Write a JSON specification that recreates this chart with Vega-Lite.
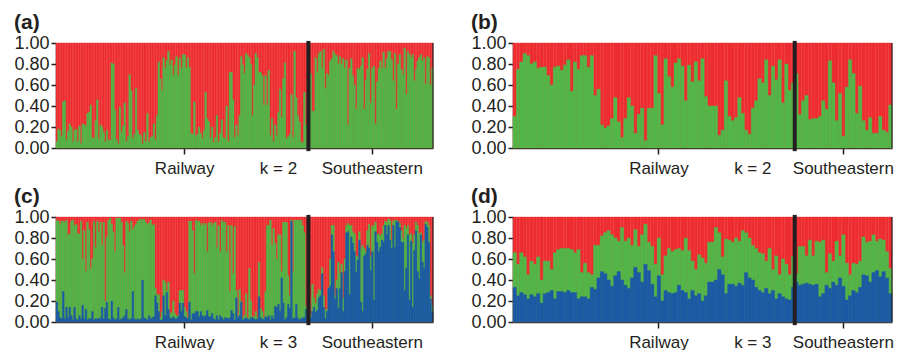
{
"$schema": "https://vega.github.io/schema/vega-lite/v6.json",
"padding": {"left": 13, "top": 12, "right": 5, "bottom": 0},
"config": {
  "view": {"stroke": null},
  "font": "Liberation Sans",
  "axis": {"labelFont": "Liberation Sans", "labelFontSize": 17, "labelColor": "#231F20", "domainColor": "#231F20", "tickColor": "#231F20", "domainWidth": 1.5, "tickWidth": 1.5, "grid": false},
  "title": {"font": "Liberation Sans", "fontSize": 21, "fontWeight": "bold", "anchor": "start", "color": "#231F20", "offset": 1}
},
"datasets": {
"a": [{"i":1,"t":0.06},{"i":2,"t":0.18},{"i":3,"t":0.17},{"i":4,"t":0.11},{"i":5,"t":0.44},{"i":6,"t":0.45},{"i":7,"t":0.08},{"i":8,"t":0.16},{"i":9,"t":0.23},{"i":10,"t":0.20},{"i":11,"t":0.06},{"i":12,"t":0.17},{"i":13,"t":0.18},{"i":14,"t":0.06},{"i":15,"t":0.21},{"i":16,"t":0.04},{"i":17,"t":0.23},{"i":18,"t":0.22},{"i":19,"t":0.21},{"i":20,"t":0.33},{"i":21,"t":0.34},{"i":22,"t":0.41},{"i":23,"t":0.10},{"i":24,"t":0.09},{"i":25,"t":0.26},{"i":26,"t":0.46},{"i":27,"t":0.09},{"i":28,"t":0.22},{"i":29,"t":0.20},{"i":30,"t":0.15},{"i":31,"t":0.06},{"i":32,"t":0.17},{"i":33,"t":0.08},{"i":34,"t":0.07},{"i":35,"t":0.81},{"i":36,"t":0.80},{"i":37,"t":0.36},{"i":38,"t":0.08},{"i":39,"t":0.04},{"i":40,"t":0.39},{"i":41,"t":0.15},{"i":42,"t":0.21},{"i":43,"t":0.43},{"i":44,"t":0.06},{"i":45,"t":0.11},{"i":46,"t":0.70},{"i":47,"t":0.55},{"i":48,"t":0.09},{"i":49,"t":0.13},{"i":50,"t":0.57},{"i":51,"t":0.17},{"i":52,"t":0.13},{"i":53,"t":0.12},{"i":54,"t":0.04},{"i":55,"t":0.15},{"i":56,"t":0.06},{"i":57,"t":0.33},{"i":58,"t":0.06},{"i":59,"t":0.10},{"i":60,"t":0.11},{"i":61,"t":0.23},{"i":62,"t":0.08},{"i":63,"t":0.31},{"i":64,"t":0.82},{"i":65,"t":0.66},{"i":66,"t":0.55},{"i":67,"t":0.86},{"i":68,"t":0.76},{"i":69,"t":0.83},{"i":70,"t":0.92},{"i":71,"t":0.79},{"i":72,"t":0.84},{"i":73,"t":0.69},{"i":74,"t":0.79},{"i":75,"t":0.87},{"i":76,"t":0.69},{"i":77,"t":0.86},{"i":78,"t":0.76},{"i":79,"t":0.89},{"i":80,"t":0.89},{"i":81,"t":0.76},{"i":82,"t":0.86},{"i":83,"t":0.77},{"i":84,"t":0.14},{"i":85,"t":0.13},{"i":86,"t":0.44},{"i":87,"t":0.11},{"i":88,"t":0.13},{"i":89,"t":0.20},{"i":90,"t":0.14},{"i":91,"t":0.09},{"i":92,"t":0.17},{"i":93,"t":0.53},{"i":94,"t":0.28},{"i":95,"t":0.25},{"i":96,"t":0.10},{"i":97,"t":0.20},{"i":98,"t":0.05},{"i":99,"t":0.10},{"i":100,"t":0.31},{"i":101,"t":0.06},{"i":102,"t":0.14},{"i":103,"t":0.27},{"i":104,"t":0.10},{"i":105,"t":0.09},{"i":106,"t":0.40},{"i":107,"t":0.06},{"i":108,"t":0.72},{"i":109,"t":0.72},{"i":110,"t":0.46},{"i":111,"t":0.10},{"i":112,"t":0.22},{"i":113,"t":0.12},{"i":114,"t":0.31},{"i":115,"t":0.87},{"i":116,"t":0.79},{"i":117,"t":0.71},{"i":118,"t":0.90},{"i":119,"t":0.88},{"i":120,"t":0.86},{"i":121,"t":0.80},{"i":122,"t":0.31},{"i":123,"t":0.60},{"i":124,"t":0.90},{"i":125,"t":0.86},{"i":126,"t":0.72},{"i":127,"t":0.72},{"i":128,"t":0.69},{"i":129,"t":0.41},{"i":130,"t":0.69},{"i":131,"t":0.41},{"i":132,"t":0.74},{"i":133,"t":0.12},{"i":134,"t":0.28},{"i":135,"t":0.06},{"i":136,"t":0.22},{"i":137,"t":0.12},{"i":138,"t":0.34},{"i":139,"t":0.56},{"i":140,"t":0.29},{"i":141,"t":0.66},{"i":142,"t":0.81},{"i":143,"t":0.09},{"i":144,"t":0.11},{"i":145,"t":0.13},{"i":146,"t":0.51},{"i":147,"t":0.10},{"i":148,"t":0.92},{"i":149,"t":0.48},{"i":150,"t":0.31},{"i":151,"t":0.25},{"i":152,"t":0.06},{"i":153,"t":0.05},{"i":154,"t":0.53},{"i":155,"t":0.22},{"i":156,"t":0.05},{"i":157,"t":0.86},{"i":158,"t":0.71},{"i":159,"t":0.35},{"i":160,"t":0.35},{"i":161,"t":0.86},{"i":162,"t":0.72},{"i":163,"t":0.90},{"i":164,"t":0.92},{"i":165,"t":0.76},{"i":166,"t":0.94},{"i":167,"t":0.57},{"i":168,"t":0.71},{"i":169,"t":0.69},{"i":170,"t":0.83},{"i":171,"t":0.85},{"i":172,"t":0.92},{"i":173,"t":0.89},{"i":174,"t":0.88},{"i":175,"t":0.80},{"i":176,"t":0.87},{"i":177,"t":0.80},{"i":178,"t":0.85},{"i":179,"t":0.76},{"i":180,"t":0.84},{"i":181,"t":0.22},{"i":182,"t":0.76},{"i":183,"t":0.85},{"i":184,"t":0.69},{"i":185,"t":0.60},{"i":186,"t":0.37},{"i":187,"t":0.76},{"i":188,"t":0.75},{"i":189,"t":0.78},{"i":190,"t":0.86},{"i":191,"t":0.37},{"i":192,"t":0.65},{"i":193,"t":0.75},{"i":194,"t":0.90},{"i":195,"t":0.43},{"i":196,"t":0.76},{"i":197,"t":0.78},{"i":198,"t":0.23},{"i":199,"t":0.63},{"i":200,"t":0.76},{"i":201,"t":0.83},{"i":202,"t":0.76},{"i":203,"t":0.91},{"i":204,"t":0.76},{"i":205,"t":0.85},{"i":206,"t":0.92},{"i":207,"t":0.92},{"i":208,"t":0.84},{"i":209,"t":0.64},{"i":210,"t":0.90},{"i":211,"t":0.37},{"i":212,"t":0.80},{"i":213,"t":0.89},{"i":214,"t":0.75},{"i":215,"t":0.70},{"i":216,"t":0.95},{"i":217,"t":0.51},{"i":218,"t":0.92},{"i":219,"t":0.89},{"i":220,"t":0.86},{"i":221,"t":0.89},{"i":222,"t":0.64},{"i":223,"t":0.75},{"i":224,"t":0.83},{"i":225,"t":0.86},{"i":226,"t":0.89},{"i":227,"t":0.83},{"i":228,"t":0.86},{"i":229,"t":0.61},{"i":230,"t":0.87},{"i":231,"t":0.86},{"i":232,"t":0.60},{"i":233,"t":0.76}],
"b": [{"i":1,"t":0.30},{"i":2,"t":0.75},{"i":3,"t":0.82},{"i":4,"t":0.90},{"i":5,"t":0.88},{"i":6,"t":0.80},{"i":7,"t":0.82},{"i":8,"t":0.76},{"i":9,"t":0.77},{"i":10,"t":0.77},{"i":11,"t":0.69},{"i":12,"t":0.60},{"i":13,"t":0.77},{"i":14,"t":0.78},{"i":15,"t":0.74},{"i":16,"t":0.79},{"i":17,"t":0.84},{"i":18,"t":0.54},{"i":19,"t":0.82},{"i":20,"t":0.75},{"i":21,"t":0.88},{"i":22,"t":0.88},{"i":23,"t":0.77},{"i":24,"t":0.88},{"i":25,"t":0.50},{"i":26,"t":0.56},{"i":27,"t":0.22},{"i":28,"t":0.19},{"i":29,"t":0.21},{"i":30,"t":0.28},{"i":31,"t":0.48},{"i":32,"t":0.25},{"i":33,"t":0.10},{"i":34,"t":0.28},{"i":35,"t":0.48},{"i":36,"t":0.40},{"i":37,"t":0.14},{"i":38,"t":0.32},{"i":39,"t":0.38},{"i":40,"t":0.07},{"i":41,"t":0.38},{"i":42,"t":0.38},{"i":43,"t":0.88},{"i":44,"t":0.52},{"i":45,"t":0.22},{"i":46,"t":0.85},{"i":47,"t":0.68},{"i":48,"t":0.58},{"i":49,"t":0.81},{"i":50,"t":0.85},{"i":51,"t":0.78},{"i":52,"t":0.45},{"i":53,"t":0.79},{"i":54,"t":0.63},{"i":55,"t":0.82},{"i":56,"t":0.64},{"i":57,"t":0.85},{"i":58,"t":0.49},{"i":59,"t":0.40},{"i":60,"t":0.40},{"i":61,"t":0.40},{"i":62,"t":0.12},{"i":63,"t":0.17},{"i":64,"t":0.64},{"i":65,"t":0.30},{"i":66,"t":0.26},{"i":67,"t":0.29},{"i":68,"t":0.48},{"i":69,"t":0.33},{"i":70,"t":0.17},{"i":71,"t":0.13},{"i":72,"t":0.38},{"i":73,"t":0.45},{"i":74,"t":0.66},{"i":75,"t":0.62},{"i":76,"t":0.84},{"i":77,"t":0.50},{"i":78,"t":0.78},{"i":79,"t":0.65},{"i":80,"t":0.84},{"i":81,"t":0.43},{"i":82,"t":0.80},{"i":83,"t":0.55},{"i":84,"t":0.62},{"i":85,"t":0.71},{"i":86,"t":0.32},{"i":87,"t":0.45},{"i":88,"t":0.50},{"i":89,"t":0.27},{"i":90,"t":0.28},{"i":91,"t":0.28},{"i":92,"t":0.30},{"i":93,"t":0.45},{"i":94,"t":0.37},{"i":95,"t":0.83},{"i":96,"t":0.62},{"i":97,"t":0.26},{"i":98,"t":0.52},{"i":99,"t":0.11},{"i":100,"t":0.58},{"i":101,"t":0.84},{"i":102,"t":0.71},{"i":103,"t":0.33},{"i":104,"t":0.59},{"i":105,"t":0.26},{"i":106,"t":0.17},{"i":107,"t":0.29},{"i":108,"t":0.14},{"i":109,"t":0.14},{"i":110,"t":0.30},{"i":111,"t":0.17},{"i":112,"t":0.15},{"i":113,"t":0.41}],
"c": [{"i":1,"t":0.97,"b":0.19},{"i":2,"t":0.96,"b":0.10},{"i":3,"t":0.93,"b":0.04},{"i":4,"t":0.96,"b":0.03},{"i":5,"t":0.96,"b":0.29},{"i":6,"t":0.95,"b":0.03},{"i":7,"t":0.97,"b":0.14},{"i":8,"t":0.83,"b":0.04},{"i":9,"t":0.84,"b":0.14},{"i":10,"t":0.96,"b":0.06},{"i":11,"t":0.97,"b":0.02},{"i":12,"t":0.92,"b":0.14},{"i":13,"t":0.93,"b":0.03},{"i":14,"t":0.84,"b":0.02},{"i":15,"t":0.84,"b":0.06},{"i":16,"t":0.96,"b":0.03},{"i":17,"t":0.60,"b":0.16},{"i":18,"t":0.87,"b":0.03},{"i":19,"t":0.48,"b":0.12},{"i":20,"t":0.95,"b":0.02},{"i":21,"t":0.88,"b":0.03},{"i":22,"t":0.51,"b":0.03},{"i":23,"t":0.60,"b":0.10},{"i":24,"t":0.96,"b":0.02},{"i":25,"t":0.71,"b":0.03},{"i":26,"t":0.96,"b":0.03},{"i":27,"t":0.86,"b":0.03},{"i":28,"t":0.95,"b":0.04},{"i":29,"t":0.73,"b":0.14},{"i":30,"t":0.95,"b":0.03},{"i":31,"t":0.20,"b":0.13},{"i":32,"t":0.81,"b":0.19},{"i":33,"t":0.97,"b":0.03},{"i":34,"t":0.99,"b":0.02},{"i":35,"t":0.93,"b":0.20},{"i":36,"t":0.86,"b":0.04},{"i":37,"t":0.67,"b":0.02},{"i":38,"t":0.99,"b":0.03},{"i":39,"t":0.99,"b":0.14},{"i":40,"t":0.99,"b":0.02},{"i":41,"t":0.95,"b":0.03},{"i":42,"t":0.73,"b":0.04},{"i":43,"t":0.47,"b":0.06},{"i":44,"t":0.96,"b":0.12},{"i":45,"t":0.94,"b":0.03},{"i":46,"t":0.86,"b":0.02},{"i":47,"t":0.96,"b":0.03},{"i":48,"t":0.88,"b":0.29},{"i":49,"t":0.91,"b":0.03},{"i":50,"t":0.93,"b":0.02},{"i":51,"t":0.96,"b":0.03},{"i":52,"t":0.97,"b":0.02},{"i":53,"t":0.98,"b":0.03},{"i":54,"t":0.97,"b":0.40},{"i":55,"t":0.98,"b":0.04},{"i":56,"t":0.95,"b":0.03},{"i":57,"t":0.93,"b":0.02},{"i":58,"t":0.94,"b":0.06},{"i":59,"t":0.97,"b":0.03},{"i":60,"t":0.92,"b":0.04},{"i":61,"t":0.93,"b":0.05},{"i":62,"t":0.32,"b":0.25},{"i":63,"t":0.26,"b":0.18},{"i":64,"t":0.26,"b":0.10},{"i":65,"t":0.04,"b":0.02},{"i":66,"t":0.10,"b":0.02},{"i":67,"t":0.40,"b":0.25},{"i":68,"t":0.38,"b":0.06},{"i":69,"t":0.30,"b":0.28},{"i":70,"t":0.38,"b":0.12},{"i":71,"t":0.08,"b":0.04},{"i":72,"t":0.09,"b":0.03},{"i":73,"t":0.20,"b":0.05},{"i":74,"t":0.08,"b":0.03},{"i":75,"t":0.06,"b":0.03},{"i":76,"t":0.06,"b":0.05},{"i":77,"t":0.30,"b":0.18},{"i":78,"t":0.30,"b":0.10},{"i":79,"t":0.30,"b":0.18},{"i":80,"t":0.14,"b":0.05},{"i":81,"t":0.10,"b":0.04},{"i":82,"t":0.04,"b":0.03},{"i":83,"t":0.96,"b":0.19},{"i":84,"t":0.96,"b":0.02},{"i":85,"t":0.87,"b":0.08},{"i":86,"t":0.46,"b":0.08},{"i":87,"t":0.97,"b":0.10},{"i":88,"t":0.96,"b":0.10},{"i":89,"t":0.96,"b":0.05},{"i":90,"t":0.92,"b":0.10},{"i":91,"t":0.94,"b":0.06},{"i":92,"t":0.92,"b":0.05},{"i":93,"t":0.94,"b":0.06},{"i":94,"t":0.67,"b":0.11},{"i":95,"t":0.94,"b":0.05},{"i":96,"t":0.95,"b":0.05},{"i":97,"t":0.92,"b":0.08},{"i":98,"t":0.94,"b":0.03},{"i":99,"t":0.95,"b":0.02},{"i":100,"t":0.71,"b":0.06},{"i":101,"t":0.92,"b":0.02},{"i":102,"t":0.67,"b":0.06},{"i":103,"t":0.97,"b":0.04},{"i":104,"t":0.95,"b":0.02},{"i":105,"t":0.95,"b":0.04},{"i":106,"t":0.67,"b":0.04},{"i":107,"t":0.92,"b":0.03},{"i":108,"t":0.29,"b":0.04},{"i":109,"t":0.92,"b":0.11},{"i":110,"t":0.46,"b":0.08},{"i":111,"t":0.91,"b":0.02},{"i":112,"t":0.30,"b":0.23},{"i":113,"t":0.06,"b":0.04},{"i":114,"t":0.31,"b":0.06},{"i":115,"t":0.20,"b":0.19},{"i":116,"t":0.04,"b":0.02},{"i":117,"t":0.06,"b":0.03},{"i":118,"t":0.27,"b":0.04},{"i":119,"t":0.04,"b":0.03},{"i":120,"t":0.51,"b":0.02},{"i":121,"t":0.20,"b":0.04},{"i":122,"t":0.05,"b":0.04},{"i":123,"t":0.05,"b":0.03},{"i":124,"t":0.10,"b":0.02},{"i":125,"t":0.04,"b":0.03},{"i":126,"t":0.57,"b":0.24},{"i":127,"t":0.13,"b":0.04},{"i":128,"t":0.10,"b":0.03},{"i":129,"t":0.04,"b":0.02},{"i":130,"t":0.29,"b":0.05},{"i":131,"t":0.92,"b":0.04},{"i":132,"t":0.92,"b":0.06},{"i":133,"t":0.97,"b":0.02},{"i":134,"t":0.73,"b":0.06},{"i":135,"t":0.89,"b":0.03},{"i":136,"t":0.75,"b":0.15},{"i":137,"t":0.60,"b":0.14},{"i":138,"t":0.83,"b":0.17},{"i":139,"t":0.83,"b":0.10},{"i":140,"t":0.48,"b":0.42},{"i":141,"t":0.95,"b":0.18},{"i":142,"t":0.95,"b":0.02},{"i":143,"t":0.95,"b":0.04},{"i":144,"t":0.44,"b":0.17},{"i":145,"t":0.25,"b":0.13},{"i":146,"t":0.97,"b":0.96},{"i":147,"t":0.48,"b":0.03},{"i":148,"t":0.97,"b":0.04},{"i":149,"t":0.97,"b":0.17},{"i":150,"t":0.97,"b":0.04},{"i":151,"t":0.97,"b":0.02},{"i":152,"t":0.97,"b":0.03},{"i":153,"t":0.92,"b":0.04},{"i":154,"t":0.85,"b":0.04},{"i":155,"t":0.15,"b":0.12},{"i":156,"t":0.15,"b":0.06},{"i":157,"t":0.22,"b":0.15},{"i":158,"t":0.06,"b":0.04},{"i":159,"t":0.36,"b":0.10},{"i":160,"t":0.23,"b":0.14},{"i":161,"t":0.18,"b":0.09},{"i":162,"t":0.27,"b":0.11},{"i":163,"t":0.31,"b":0.23},{"i":164,"t":0.30,"b":0.25},{"i":165,"t":0.52,"b":0.46},{"i":166,"t":0.25,"b":0.14},{"i":167,"t":0.12,"b":0.03},{"i":168,"t":0.12,"b":0.10},{"i":169,"t":0.33,"b":0.32},{"i":170,"t":0.60,"b":0.34},{"i":171,"t":0.92,"b":0.83},{"i":172,"t":0.92,"b":0.67},{"i":173,"t":0.25,"b":0.22},{"i":174,"t":0.40,"b":0.32},{"i":175,"t":0.57,"b":0.13},{"i":176,"t":0.46,"b":0.32},{"i":177,"t":0.55,"b":0.47},{"i":178,"t":0.23,"b":0.10},{"i":179,"t":0.60,"b":0.48},{"i":180,"t":0.92,"b":0.85},{"i":181,"t":0.94,"b":0.86},{"i":182,"t":0.92,"b":0.26},{"i":183,"t":0.92,"b":0.81},{"i":184,"t":0.86,"b":0.75},{"i":185,"t":0.84,"b":0.67},{"i":186,"t":0.63,"b":0.47},{"i":187,"t":0.62,"b":0.59},{"i":188,"t":0.86,"b":0.78},{"i":189,"t":0.70,"b":0.19},{"i":190,"t":0.73,"b":0.10},{"i":191,"t":0.70,"b":0.63},{"i":192,"t":0.67,"b":0.65},{"i":193,"t":0.87,"b":0.73},{"i":194,"t":0.93,"b":0.70},{"i":195,"t":0.62,"b":0.49},{"i":196,"t":0.91,"b":0.67},{"i":197,"t":0.92,"b":0.21},{"i":198,"t":0.95,"b":0.86},{"i":199,"t":0.83,"b":0.76},{"i":200,"t":0.84,"b":0.67},{"i":201,"t":0.82,"b":0.71},{"i":202,"t":0.84,"b":0.78},{"i":203,"t":0.92,"b":0.76},{"i":204,"t":0.96,"b":0.92},{"i":205,"t":0.95,"b":0.83},{"i":206,"t":0.98,"b":0.92},{"i":207,"t":0.97,"b":0.78},{"i":208,"t":0.78,"b":0.70},{"i":209,"t":0.96,"b":0.92},{"i":210,"t":0.97,"b":0.71},{"i":211,"t":0.97,"b":0.96},{"i":212,"t":0.96,"b":0.95},{"i":213,"t":0.94,"b":0.90},{"i":214,"t":0.87,"b":0.76},{"i":215,"t":0.79,"b":0.76},{"i":216,"t":0.92,"b":0.30},{"i":217,"t":0.89,"b":0.51},{"i":218,"t":0.92,"b":0.83},{"i":219,"t":0.83,"b":0.21},{"i":220,"t":0.84,"b":0.77},{"i":221,"t":0.75,"b":0.14},{"i":222,"t":0.83,"b":0.68},{"i":223,"t":0.95,"b":0.87},{"i":224,"t":0.92,"b":0.48},{"i":225,"t":0.84,"b":0.41},{"i":226,"t":0.85,"b":0.83},{"i":227,"t":0.76,"b":0.57},{"i":228,"t":0.78,"b":0.51},{"i":229,"t":0.96,"b":0.93},{"i":230,"t":0.95,"b":0.90},{"i":231,"t":0.92,"b":0.76},{"i":232,"t":0.25,"b":0.22},{"i":233,"t":0.16,"b":0.10}],
"d": [{"i":1,"t":0.66,"b":0.33},{"i":2,"t":0.55,"b":0.25},{"i":3,"t":0.66,"b":0.28},{"i":4,"t":0.62,"b":0.26},{"i":5,"t":0.45,"b":0.22},{"i":6,"t":0.58,"b":0.26},{"i":7,"t":0.55,"b":0.24},{"i":8,"t":0.62,"b":0.27},{"i":9,"t":0.40,"b":0.18},{"i":10,"t":0.58,"b":0.27},{"i":11,"t":0.58,"b":0.28},{"i":12,"t":0.50,"b":0.30},{"i":13,"t":0.66,"b":0.22},{"i":14,"t":0.69,"b":0.29},{"i":15,"t":0.70,"b":0.29},{"i":16,"t":0.70,"b":0.28},{"i":17,"t":0.70,"b":0.30},{"i":18,"t":0.69,"b":0.28},{"i":19,"t":0.66,"b":0.28},{"i":20,"t":0.69,"b":0.22},{"i":21,"t":0.47,"b":0.24},{"i":22,"t":0.56,"b":0.24},{"i":23,"t":0.47,"b":0.22},{"i":24,"t":0.45,"b":0.33},{"i":25,"t":0.73,"b":0.31},{"i":26,"t":0.73,"b":0.42},{"i":27,"t":0.82,"b":0.48},{"i":28,"t":0.85,"b":0.46},{"i":29,"t":0.87,"b":0.40},{"i":30,"t":0.83,"b":0.34},{"i":31,"t":0.80,"b":0.44},{"i":32,"t":0.77,"b":0.48},{"i":33,"t":0.90,"b":0.40},{"i":34,"t":0.77,"b":0.35},{"i":35,"t":0.80,"b":0.32},{"i":36,"t":0.73,"b":0.42},{"i":37,"t":0.88,"b":0.52},{"i":38,"t":0.72,"b":0.47},{"i":39,"t":0.83,"b":0.38},{"i":40,"t":0.93,"b":0.55},{"i":41,"t":0.76,"b":0.49},{"i":42,"t":0.72,"b":0.36},{"i":43,"t":0.55,"b":0.24},{"i":44,"t":0.80,"b":0.44},{"i":45,"t":0.45,"b":0.20},{"i":46,"t":0.63,"b":0.30},{"i":47,"t":0.70,"b":0.28},{"i":48,"t":0.67,"b":0.27},{"i":49,"t":0.69,"b":0.28},{"i":50,"t":0.70,"b":0.35},{"i":51,"t":0.68,"b":0.30},{"i":52,"t":0.80,"b":0.28},{"i":53,"t":0.68,"b":0.22},{"i":54,"t":0.58,"b":0.30},{"i":55,"t":0.50,"b":0.25},{"i":56,"t":0.64,"b":0.27},{"i":57,"t":0.61,"b":0.20},{"i":58,"t":0.56,"b":0.25},{"i":59,"t":0.76,"b":0.38},{"i":60,"t":0.76,"b":0.38},{"i":61,"t":0.90,"b":0.40},{"i":62,"t":0.85,"b":0.50},{"i":63,"t":0.62,"b":0.45},{"i":64,"t":0.79,"b":0.27},{"i":65,"t":0.78,"b":0.36},{"i":66,"t":0.76,"b":0.36},{"i":67,"t":0.80,"b":0.34},{"i":68,"t":0.77,"b":0.37},{"i":69,"t":0.87,"b":0.35},{"i":70,"t":0.85,"b":0.47},{"i":71,"t":0.80,"b":0.42},{"i":72,"t":0.73,"b":0.40},{"i":73,"t":0.70,"b":0.33},{"i":74,"t":0.66,"b":0.30},{"i":75,"t":0.65,"b":0.28},{"i":76,"t":0.58,"b":0.32},{"i":77,"t":0.70,"b":0.27},{"i":78,"t":0.50,"b":0.30},{"i":79,"t":0.63,"b":0.22},{"i":80,"t":0.45,"b":0.27},{"i":81,"t":0.60,"b":0.24},{"i":82,"t":0.55,"b":0.22},{"i":83,"t":0.45,"b":0.21},{"i":84,"t":0.63,"b":0.33},{"i":85,"t":0.46,"b":0.38},{"i":86,"t":0.72,"b":0.35},{"i":87,"t":0.72,"b":0.36},{"i":88,"t":0.63,"b":0.37},{"i":89,"t":0.78,"b":0.36},{"i":90,"t":0.63,"b":0.35},{"i":91,"t":0.77,"b":0.36},{"i":92,"t":0.76,"b":0.24},{"i":93,"t":0.78,"b":0.27},{"i":94,"t":0.47,"b":0.35},{"i":95,"t":0.65,"b":0.32},{"i":96,"t":0.58,"b":0.38},{"i":97,"t":0.77,"b":0.35},{"i":98,"t":0.63,"b":0.42},{"i":99,"t":0.83,"b":0.34},{"i":100,"t":0.56,"b":0.21},{"i":101,"t":0.45,"b":0.25},{"i":102,"t":0.56,"b":0.30},{"i":103,"t":0.55,"b":0.28},{"i":104,"t":0.58,"b":0.33},{"i":105,"t":0.81,"b":0.45},{"i":106,"t":0.76,"b":0.44},{"i":107,"t":0.77,"b":0.38},{"i":108,"t":0.83,"b":0.47},{"i":109,"t":0.77,"b":0.49},{"i":110,"t":0.79,"b":0.43},{"i":111,"t":0.78,"b":0.48},{"i":112,"t":0.67,"b":0.42},{"i":113,"t":0.51,"b":0.27}]
},
"spacing": 10,
"vconcat": [
{"spacing": 36, "hconcat": [
 {"title": "(a)", "width": 377, "height": 105, "data": {"name": "a"},
  "resolve": {"axis": {"x": "independent", "y": "independent"}},
  "layer": [
   {"mark": {"type": "bar", "color": "#EE2D31", "stroke": "#EE2D31", "strokeWidth": 0.4},
    "encoding": {"x": {"field": "i", "type": "ordinal", "scale": {"paddingInner": 0, "paddingOuter": 0}, "axis": null},
                 "y": {"datum": 1, "type": "quantitative", "scale": {"domain": [0, 1]}, "axis": null}, "y2": {"datum": 0}}},
   {"mark": {"type": "bar", "color": "#52B748", "stroke": "#52B748", "strokeWidth": 0.4},
    "encoding": {"x": {"field": "i", "type": "ordinal", "scale": {"paddingInner": 0, "paddingOuter": 0},
                       "axis": {"title": null, "values": [80, 138, 196], "labelExpr": "datum.value == 80 ? 'Railway' : datum.value == 138 ? 'k = 2' : 'Southeastern'", "labelAngle": 0, "labelAlign": "center", "labelBaseline": "top", "tickSize": 6, "labelPadding": 6, "labelOverlap": false, "tickOpacity": {"condition": {"test": "datum.value == 138", "value": 0}, "value": 1}}},
                 "y": {"field": "t", "type": "quantitative", "scale": {"domain": [0, 1]}, "axis": {"title": null, "values": [0, 0.2, 0.4, 0.6, 0.8, 1], "format": ".2f", "tickSize": 5, "labelPadding": 2, "labelFontSize": 18, "labelOverlap": false, "labelAlign": "right", "labelBaseline": "middle"}},
                 "y2": {"datum": 0}}},
   {"transform": [{"filter": "datum.i == 157"}], "mark": {"type": "rule", "color": "#231F20", "strokeWidth": 4},
    "encoding": {"x": {"field": "i", "type": "ordinal", "bandPosition": 0, "axis": null}, "y": {"datum": 1.02, "type": "quantitative", "axis": null}, "y2": {"datum": -0.03}}},
   {"transform": [{"filter": "datum.i == 233"}], "mark": {"type": "rule", "color": "#231F20", "strokeWidth": 1.2},
    "encoding": {"x": {"field": "i", "type": "ordinal", "bandPosition": 1, "axis": null}, "y": {"datum": 1, "type": "quantitative", "axis": null}, "y2": {"datum": 0}}}
  ]},
 {"title": "(b)", "width": 379, "height": 105, "data": {"name": "b"},
  "resolve": {"axis": {"x": "independent", "y": "independent"}},
  "layer": [
   {"mark": {"type": "bar", "color": "#EE2D31", "stroke": "#EE2D31", "strokeWidth": 0.4},
    "encoding": {"x": {"field": "i", "type": "ordinal", "scale": {"paddingInner": 0, "paddingOuter": 0}, "axis": null},
                 "y": {"datum": 1, "type": "quantitative", "scale": {"domain": [0, 1]}, "axis": null}, "y2": {"datum": 0}}},
   {"mark": {"type": "bar", "color": "#52B748", "stroke": "#52B748", "strokeWidth": 0.4},
    "encoding": {"x": {"field": "i", "type": "ordinal", "scale": {"paddingInner": 0, "paddingOuter": 0},
                       "axis": {"title": null, "values": [44, 72, 99], "labelExpr": "datum.value == 44 ? 'Railway' : datum.value == 72 ? 'k = 2' : 'Southeastern'", "labelAngle": 0, "labelAlign": "center", "labelBaseline": "top", "tickSize": 6, "labelPadding": 6, "labelOverlap": false, "tickOpacity": {"condition": {"test": "datum.value == 72", "value": 0}, "value": 1}}},
                 "y": {"field": "t", "type": "quantitative", "scale": {"domain": [0, 1]}, "axis": {"title": null, "values": [0, 0.2, 0.4, 0.6, 0.8, 1], "format": ".2f", "tickSize": 5, "labelPadding": 2, "labelFontSize": 18, "labelOverlap": false, "labelAlign": "right", "labelBaseline": "middle"}},
                 "y2": {"datum": 0}}},
   {"transform": [{"filter": "datum.i == 85"}], "mark": {"type": "rule", "color": "#231F20", "strokeWidth": 4},
    "encoding": {"x": {"field": "i", "type": "ordinal", "bandPosition": 0, "axis": null}, "y": {"datum": 1.02, "type": "quantitative", "axis": null}, "y2": {"datum": -0.03}}},
   {"transform": [{"filter": "datum.i == 113"}], "mark": {"type": "rule", "color": "#231F20", "strokeWidth": 1.2},
    "encoding": {"x": {"field": "i", "type": "ordinal", "bandPosition": 1, "axis": null}, "y": {"datum": 1, "type": "quantitative", "axis": null}, "y2": {"datum": 0}}}
  ]}
]},
{"spacing": 36, "hconcat": [
 {"title": "(c)", "width": 377, "height": 105, "data": {"name": "c"},
  "resolve": {"axis": {"x": "independent", "y": "independent"}},
  "layer": [
   {"mark": {"type": "bar", "color": "#EE2D31", "stroke": "#EE2D31", "strokeWidth": 0.4},
    "encoding": {"x": {"field": "i", "type": "ordinal", "scale": {"paddingInner": 0, "paddingOuter": 0}, "axis": null},
                 "y": {"datum": 1, "type": "quantitative", "scale": {"domain": [0, 1]}, "axis": null}, "y2": {"datum": 0}}},
   {"mark": {"type": "bar", "color": "#52B748", "stroke": "#52B748", "strokeWidth": 0.4},
    "encoding": {"x": {"field": "i", "type": "ordinal", "scale": {"paddingInner": 0, "paddingOuter": 0},
                       "axis": {"title": null, "values": [80, 138, 196], "labelExpr": "datum.value == 80 ? 'Railway' : datum.value == 138 ? 'k = 3' : 'Southeastern'", "labelAngle": 0, "labelAlign": "center", "labelBaseline": "top", "tickSize": 6, "labelPadding": 6, "labelOverlap": false, "tickOpacity": {"condition": {"test": "datum.value == 138", "value": 0}, "value": 1}}},
                 "y": {"field": "t", "type": "quantitative", "scale": {"domain": [0, 1]}, "axis": {"title": null, "values": [0, 0.2, 0.4, 0.6, 0.8, 1], "format": ".2f", "tickSize": 5, "labelPadding": 2, "labelFontSize": 18, "labelOverlap": false, "labelAlign": "right", "labelBaseline": "middle"}},
                 "y2": {"datum": 0}}},
   {"mark": {"type": "bar", "color": "#1C5AA5", "stroke": "#1C5AA5", "strokeWidth": 0.4},
    "encoding": {"x": {"field": "i", "type": "ordinal", "axis": null},
                 "y": {"field": "b", "type": "quantitative", "scale": {"domain": [0, 1]}, "axis": null}, "y2": {"datum": 0}}},
   {"transform": [{"filter": "datum.i == 157"}], "mark": {"type": "rule", "color": "#231F20", "strokeWidth": 4},
    "encoding": {"x": {"field": "i", "type": "ordinal", "bandPosition": 0, "axis": null}, "y": {"datum": 1.02, "type": "quantitative", "axis": null}, "y2": {"datum": -0.03}}},
   {"transform": [{"filter": "datum.i == 233"}], "mark": {"type": "rule", "color": "#231F20", "strokeWidth": 1.2},
    "encoding": {"x": {"field": "i", "type": "ordinal", "bandPosition": 1, "axis": null}, "y": {"datum": 1, "type": "quantitative", "axis": null}, "y2": {"datum": 0}}}
  ]},
 {"title": "(d)", "width": 379, "height": 105, "data": {"name": "d"},
  "resolve": {"axis": {"x": "independent", "y": "independent"}},
  "layer": [
   {"mark": {"type": "bar", "color": "#EE2D31", "stroke": "#EE2D31", "strokeWidth": 0.4},
    "encoding": {"x": {"field": "i", "type": "ordinal", "scale": {"paddingInner": 0, "paddingOuter": 0}, "axis": null},
                 "y": {"datum": 1, "type": "quantitative", "scale": {"domain": [0, 1]}, "axis": null}, "y2": {"datum": 0}}},
   {"mark": {"type": "bar", "color": "#52B748", "stroke": "#52B748", "strokeWidth": 0.4},
    "encoding": {"x": {"field": "i", "type": "ordinal", "scale": {"paddingInner": 0, "paddingOuter": 0},
                       "axis": {"title": null, "values": [44, 72, 99], "labelExpr": "datum.value == 44 ? 'Railway' : datum.value == 72 ? 'k = 3' : 'Southeastern'", "labelAngle": 0, "labelAlign": "center", "labelBaseline": "top", "tickSize": 6, "labelPadding": 6, "labelOverlap": false, "tickOpacity": {"condition": {"test": "datum.value == 72", "value": 0}, "value": 1}}},
                 "y": {"field": "t", "type": "quantitative", "scale": {"domain": [0, 1]}, "axis": {"title": null, "values": [0, 0.2, 0.4, 0.6, 0.8, 1], "format": ".2f", "tickSize": 5, "labelPadding": 2, "labelFontSize": 18, "labelOverlap": false, "labelAlign": "right", "labelBaseline": "middle"}},
                 "y2": {"datum": 0}}},
   {"mark": {"type": "bar", "color": "#1C5AA5", "stroke": "#1C5AA5", "strokeWidth": 0.4},
    "encoding": {"x": {"field": "i", "type": "ordinal", "axis": null},
                 "y": {"field": "b", "type": "quantitative", "scale": {"domain": [0, 1]}, "axis": null}, "y2": {"datum": 0}}},
   {"transform": [{"filter": "datum.i == 85"}], "mark": {"type": "rule", "color": "#231F20", "strokeWidth": 4},
    "encoding": {"x": {"field": "i", "type": "ordinal", "bandPosition": 0, "axis": null}, "y": {"datum": 1.02, "type": "quantitative", "axis": null}, "y2": {"datum": -0.03}}},
   {"transform": [{"filter": "datum.i == 113"}], "mark": {"type": "rule", "color": "#231F20", "strokeWidth": 1.2},
    "encoding": {"x": {"field": "i", "type": "ordinal", "bandPosition": 1, "axis": null}, "y": {"datum": 1, "type": "quantitative", "axis": null}, "y2": {"datum": 0}}}
  ]}
]}
]
}
